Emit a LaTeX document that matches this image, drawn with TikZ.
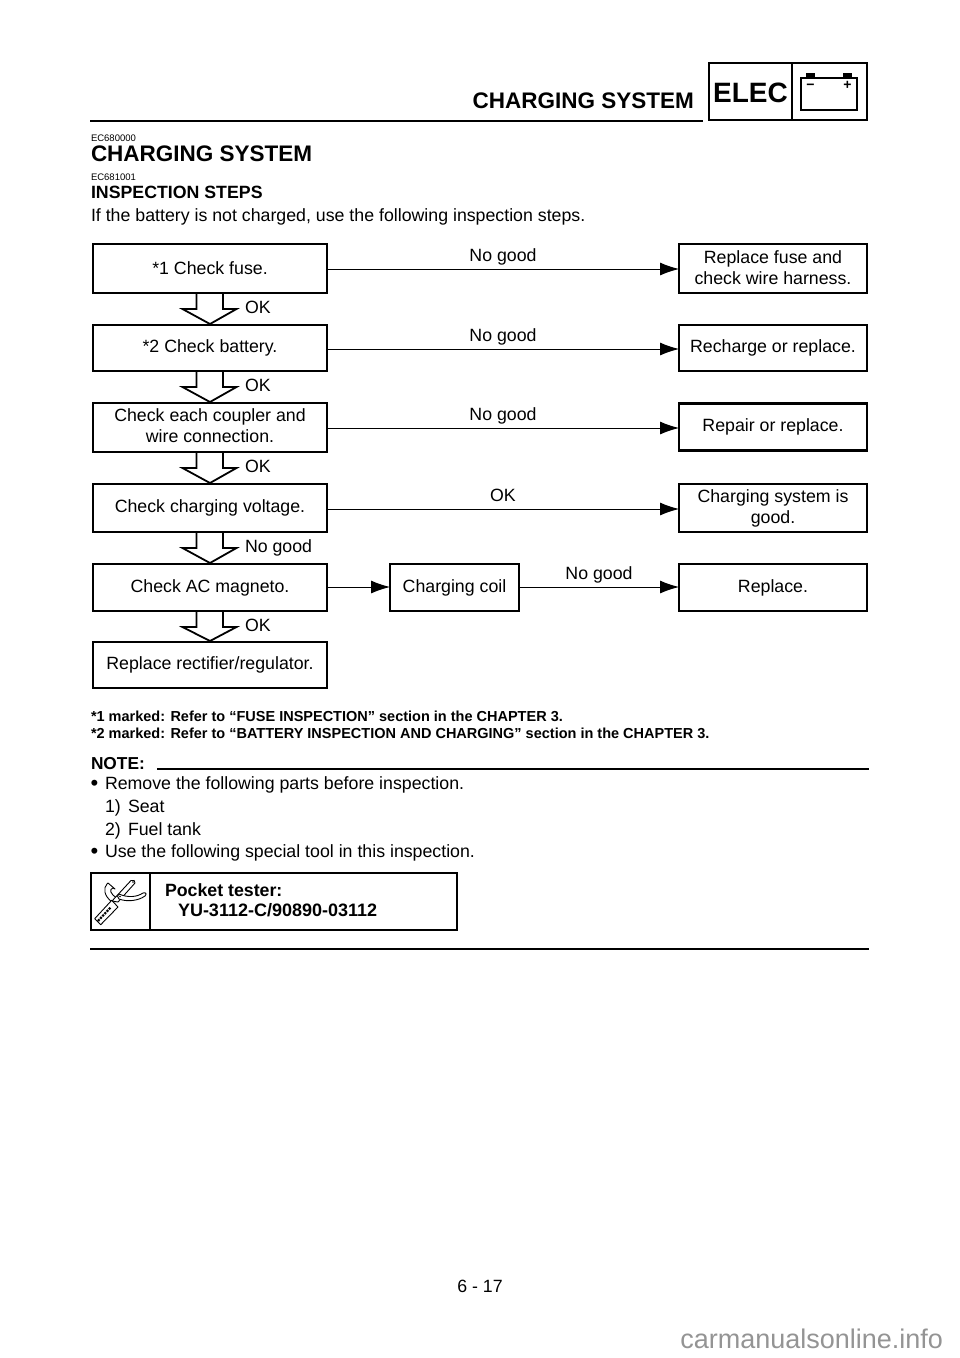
\documentclass[tikz,border=0pt]{standalone}
\usepackage{fontspec}
\setmainfont{Liberation Sans}
\usetikzlibrary{arrows.meta}
\tikzset{
  x=1pt, y=-1pt,
  body/.style={font=\fontsize{17.75}{21}\selectfont, inner sep=0pt, outer sep=0pt},
  plain/.style={body, anchor=base west},
  heavy/.style={body, anchor=base west, font=\fontsize{17.75}{21}\selectfont\bfseries},
  tiny/.style={body, anchor=base west, font=\fontsize{9.5}{10}\selectfont},
  notes/.style={body, anchor=base west, font=\fontsize{14.5}{15}\selectfont\bfseries},
  stepbox/.style={body, draw, line width=2.8pt, align=center},
  flow/.style={line width=0.9pt, -{Latex[length=19pt,width=13pt]}},
  fatarrow/.style={line width=1.8pt, line join=miter},
  rulebar/.style={line width=2.8pt},
  flowtext/.style={body, anchor=base, yshift=8pt},
  icon/.style={line width=0.9pt, line join=round, fill=white}
}
\begin{document}
\begin{tikzpicture}
  \useasboundingbox (0,0) rectangle (960,1358);

  % Page head
  \node[body, anchor=base east, font=\fontsize{22.5}{24}\selectfont\bfseries] (headtext) at (694,108) {CHARGING SYSTEM};
  \coordinate (headL) at (90,121);
  \coordinate (headR) at (703,121);
  \draw[rulebar] (headL) -- (headR);
  \draw[line width=2.6pt] (709,63) rectangle (867,120);
  \draw[line width=2.6pt] (792,63) -- (792,120);
  \node[body, font=\fontsize{28}{30}\selectfont\bfseries] (elec) at (750.5,92.5) {ELEC};
  \draw[line width=1.2pt] (801,78) rectangle (857,110);
  \fill (806,73) rectangle (815,78);
  \fill (843,73) rectangle (852,78);
  \node[body, font=\fontsize{14}{14}\selectfont\bfseries] (minus) at (810.5,87) {−};
  \node[body, font=\fontsize{14}{14}\selectfont\bfseries] (plus) at (847.5,85) {+};

  % Section titles
  \node[tiny] (code1) at (91,141) {EC680000};
  \node[body, anchor=base west, font=\fontsize{22.5}{24}\selectfont\bfseries] (title) at (91,161) {CHARGING SYSTEM};
  \node[tiny] (code2) at (91,180) {EC681001};
  \node[heavy] (steps) at (91,198) {INSPECTION STEPS};
  \node[plain] (intro) at (91,221) {If the battery is not charged, use the following inspection steps.};

  % Boxes of the chart
  \foreach \n/\cx/\cy/\w/\h/\t in {
      fuse/210/268.5/234/49/{*1 Check fuse.},
      battery/210/348/234/46/{*2 Check battery.},
      coupler/210/427.5/234/49/{Check each coupler and\\wire connection.\\[-18pt]},
      voltage/210/508/234/48/{Check charging voltage.},
      magneto/210/587.5/234/47/{Check AC magneto.},
      rectifier/210/665/234/46/{Replace rectifier/regulator.},
      rfuse/773/268.5/188/49/{Replace fuse and\\check wire harness.\\[-19pt]},
      rbattery/773/348/188/46/{Recharge or replace.},
      rcoupler/773/427/188/47/{Repair or replace.},
      rvoltage/773/508/188/48/{Charging system is\\good.},
      rcoil/773/587.5/188/47/{Replace.},
      coil/454.5/587.5/129/47/{Charging coil}} {
    \node[stepbox, minimum width=\w pt, minimum height=\h pt] (\n) at (\cx,\cy) {\t};
  }

  % Fat arrows down the left column
  \foreach \a/\b/\l/\p in {fuse/battery/OK/1, battery/coupler/OK/2, coupler/voltage/OK/3, voltage/magneto/No good/4, magneto/rectifier/OK/5} {
    \draw[fatarrow] ([xshift=-13.5pt]\a.south) -- ++(0,16) -- ++(-14,0) -- ([yshift=1pt]\b.north) -- ([xshift=26.5pt,yshift=-16pt]\a.south) -- ([xshift=13pt,yshift=-16pt]\a.south) -- ([xshift=13pt]\a.south);
    \node[plain] (okl\p) at ([xshift=35pt,yshift=-20.5pt]\a.south) {\l};
  }

  % Thin arrows to the right column
  \foreach \a/\b/\l/\s in {fuse/rfuse/No good/-0.5, battery/rbattery/No good/-1, coupler/rcoupler/No good/-0.5, voltage/rvoltage/OK/-1, coil/rcoil/No good/0.5} {
    \coordinate (s\a) at ([yshift=\s pt]\a.east);
    \draw[flow] (s\a) -- (s\a -| \b.west) node[flowtext, midway] (lab\a) {\l};
  }
  \coordinate (smagneto) at ([yshift=0.5pt]magneto.east);
  \draw[flow] (smagneto) -- (smagneto -| coil.west);

  % Notes
  \node[notes] (note1) at (91,721) {*1 marked: Refer to “FUSE INSPECTION” section in the CHAPTER 3.};
  \node[notes] (note2) at (91,738) {*2 marked: Refer to “BATTERY INSPECTION AND CHARGING” section in the CHAPTER 3.};
  \node[body, anchor=base west, font=\fontsize{17.3}{18}\selectfont\bfseries] (note) at (91,769) {NOTE:};
  \coordinate (noteL) at (157,769);
  \coordinate (noteR) at (869,769);
  \draw[rulebar] (noteL) -- (noteR);
  \node[plain, font=\fontsize{22}{22}\selectfont] (bull1) at (90.5,790) {•};
  \node[plain] (item1) at (105,789) {Remove the following parts before inspection.};
  \node[plain] (sub1) at (105,812) {1)};
  \node[plain] (sub1t) at (128,812) {Seat};
  \node[plain] (sub2) at (105,835) {2)};
  \node[plain] (sub2t) at (128,835) {Fuel tank};
  \node[plain, font=\fontsize{22}{22}\selectfont] (bull2) at (90.5,858) {•};
  \node[plain] (item2) at (105,857) {Use the following special tool in this inspection.};

  % Tool box
  \draw[line width=2.6pt] (91,873) rectangle (457,930);
  \draw[line width=2.6pt] (150,873) -- (150,930);
  \node[heavy] (tool1) at (165,896) {Pocket tester:};
  \node[heavy, font=\fontsize{18}{21}\selectfont\bfseries] (tool2) at (178,916) {YU-3112-C/90890-03112};

  % Tool picture
  \draw[icon] (107,884) .. controls (103,888) and (104,896) .. (112,902) -- (117,898) .. controls (110,894) and (109,889) .. (113,888) -- (115,889) -- (108,883) -- cycle;
  \draw[icon] (112,901) -- (131,880.5) .. controls (133,879) and (136,881) .. (135,883) -- (118,902) -- cycle;
  \draw[icon] (119,894) .. controls (128,898) and (137,897) .. (143,893) .. controls (146,892) and (147,894) .. (145,896) .. controls (138,901) and (127,902) .. (119,899) .. controls (117,897) and (117,895) .. (119,894) -- cycle;
  \draw[icon] (94.7,918.7) -- (111.7,900.3) -- (118,907) -- (100.7,924.7) -- cycle;
  \draw[line width=2.2pt, densely dotted] (98,921) -- (111,907);
  \fill (133,882) circle (0.8pt);
  \fill (120,896.5) circle (0.8pt);

  \coordinate (footL) at (90,949);
  \coordinate (footR) at (869,949);
  \draw[rulebar] (footL) -- (footR);

  % Page foot
  \node[body] (pageno) at (480,1286) {6 - 17};
  \node[body, anchor=base east, font=\fontsize{27}{28}\selectfont, text=black!42] (site) at (943,1348) {carmanualsonline.info};
\end{tikzpicture}
\end{document}
